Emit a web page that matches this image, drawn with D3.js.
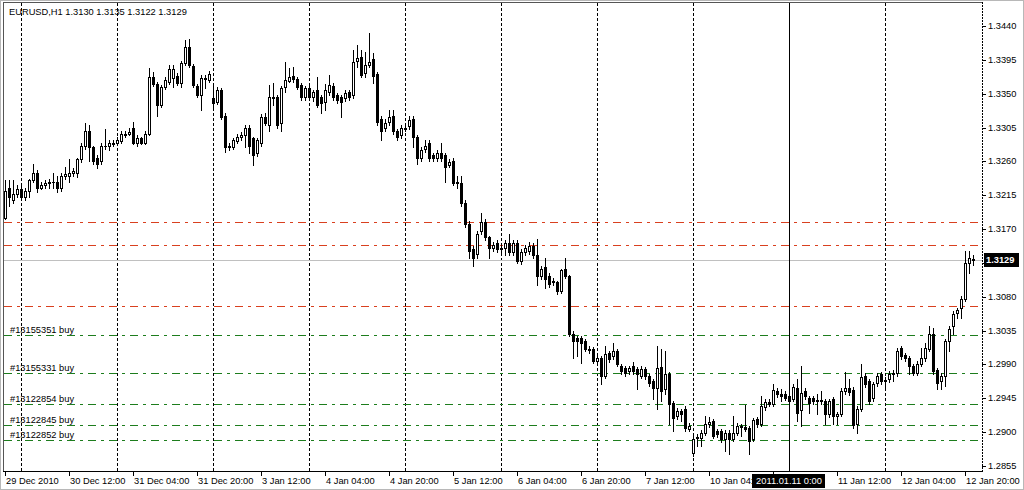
<!DOCTYPE html>
<html><head><meta charset="utf-8">
<script src="https://cdn.jsdelivr.net/npm/d3@7"></script>
<style>
html,body{margin:0;padding:0;background:#fff;}
svg{display:block;}
line,rect{shape-rendering:crispEdges;}
text{font-family:"Liberation Sans",Arial,sans-serif;font-size:9.3px;fill:#000;}
</style></head><body>
<svg id="c" width="1024" height="490"></svg>
<script>
const symbol = "EURUSD,H1";
const lastQuote = ["1.3130","1.3135","1.3122","1.3129"];
const opens = [1.3185,1.3224,1.3209,1.3217,1.3223,1.3213,1.3220,1.3235,1.3244,1.3225,
1.3229,1.3231,1.3232,1.3232,1.3225,1.3240,1.3241,1.3244,1.3245,1.3263,
1.3281,1.3301,1.3279,1.3265,1.3261,1.3281,1.3280,1.3283,1.3285,1.3287,
1.3295,1.3297,1.3304,1.3285,1.3291,1.3285,1.3297,1.3372,1.3363,1.3335,
1.3359,1.3365,1.3371,1.3373,1.3364,1.3391,1.3412,1.3387,1.3360,1.3348,
1.3371,1.3368,1.3344,1.3339,1.3355,1.3321,1.3279,1.3279,1.3287,1.3292,
1.3295,1.3305,1.3291,1.3271,1.3284,1.3319,1.3308,1.3345,1.3345,1.3311,
1.3359,1.3367,1.3373,1.3369,1.3361,1.3345,1.3357,1.3345,1.3355,1.3345,
1.3339,1.3352,1.3360,1.3348,1.3345,1.3344,1.3352,1.3348,1.3393,1.3399,
1.3377,1.3388,1.3396,1.3376,1.3317,1.3304,1.3313,1.3320,1.3300,1.3295,
1.3304,1.3307,1.3317,1.3292,1.3265,1.3277,1.3284,1.3268,1.3265,1.3271,
1.3268,1.3255,1.3261,1.3232,1.3231,1.3205,1.3177,1.3144,1.3137,1.3168,
1.3180,1.3159,1.3145,1.3152,1.3144,1.3145,1.3151,1.3139,1.3151,1.3128,
1.3139,1.3141,1.3148,1.3136,1.3108,1.3119,1.3108,1.3101,1.3099,1.3088,
1.3117,1.3107,1.3031,1.3025,1.3025,1.3021,1.3011,1.3011,1.2995,1.2999,
1.2975,1.3005,1.3001,1.3008,1.2988,1.2985,1.2981,1.2988,1.2984,1.2975,
1.2984,1.2975,1.2968,1.2959,1.2987,1.2957,1.2977,1.2939,1.2921,1.2928,
1.2931,1.2904,1.2872,1.2892,1.2892,1.2899,1.2911,1.2915,1.2901,1.2901,
1.2891,1.2899,1.2891,1.2899,1.2908,1.2907,1.2905,1.2891,1.2917,1.2911,
1.2933,1.2940,1.2938,1.2955,1.2951,1.2951,1.2948,1.2944,1.2959,1.2929,
1.2955,1.2945,1.2945,1.2941,1.2943,1.2941,1.2924,1.2944,1.2921,1.2924,
1.2955,1.2959,1.2956,1.2911,1.2931,1.2975,1.2968,1.2945,1.2965,1.2977,
1.2968,1.2971,1.2977,1.2979,1.3012,1.3003,1.2999,1.2988,1.2979,1.2991,
1.2999,1.3011,1.3031,1.2983,1.2968,1.2975,1.3021,1.3041,1.3059,1.3065,
1.3077,1.3125,1.3130];
const highs = [1.3235,1.3235,1.3235,1.3228,1.3231,1.3224,1.3237,1.3256,1.3248,1.3233,
1.3235,1.3237,1.3245,1.3241,1.3244,1.3252,1.3263,1.3251,1.3264,1.3285,
1.3311,1.3308,1.3281,1.3268,1.3284,1.3303,1.3288,1.3289,1.3292,1.3300,
1.3301,1.3304,1.3312,1.3295,1.3293,1.3300,1.3384,1.3379,1.3365,1.3361,
1.3372,1.3388,1.3388,1.3377,1.3393,1.3421,1.3423,1.3389,1.3363,1.3375,
1.3375,1.3380,1.3364,1.3359,1.3357,1.3324,1.3284,1.3291,1.3296,1.3299,
1.3308,1.3308,1.3293,1.3291,1.3323,1.3324,1.3361,1.3364,1.3348,1.3360,
1.3392,1.3384,1.3385,1.3372,1.3364,1.3360,1.3360,1.3355,1.3372,1.3348,
1.3363,1.3375,1.3364,1.3351,1.3348,1.3355,1.3355,1.3408,1.3415,1.3408,
1.3405,1.3431,1.3404,1.3379,1.3320,1.3316,1.3328,1.3328,1.3303,1.3308,
1.3309,1.3321,1.3320,1.3295,1.3279,1.3288,1.3288,1.3271,1.3275,1.3284,
1.3271,1.3263,1.3264,1.3241,1.3241,1.3208,1.3181,1.3147,1.3167,1.3192,
1.3183,1.3161,1.3153,1.3155,1.3149,1.3155,1.3164,1.3155,1.3155,1.3143,
1.3149,1.3153,1.3151,1.3157,1.3121,1.3132,1.3111,1.3105,1.3101,1.3117,
1.3131,1.3109,1.3035,1.3028,1.3028,1.3024,1.3015,1.3013,1.3003,1.3001,
1.3015,1.3008,1.3019,1.3011,1.2991,1.2988,1.2988,1.2993,1.2987,1.2988,
1.2987,1.2977,1.2971,1.3015,1.3011,1.3008,1.2980,1.2941,1.2932,1.2931,
1.2935,1.2912,1.2895,1.2897,1.2903,1.2921,1.2920,1.2917,1.2904,1.2904,
1.2903,1.2903,1.2921,1.2912,1.2911,1.2936,1.2908,1.2919,1.2920,1.2948,
1.2944,1.2944,1.2964,1.2959,1.2957,1.2955,1.2951,1.2964,1.2971,1.2988,
1.2959,1.2948,1.2948,1.2951,1.2955,1.2944,1.2944,1.2947,1.2927,1.2959,
1.2980,1.2971,1.2960,1.2935,1.2991,1.2979,1.2971,1.2967,1.2979,1.2980,
1.2973,1.2981,1.2983,1.3012,1.3015,1.3005,1.3001,1.2991,1.2995,1.3012,
1.3019,1.3041,1.3039,1.2985,1.2979,1.3024,1.3041,1.3061,1.3065,1.3081,
1.3141,1.3141,1.3135];
const lows = [1.3184,1.3201,1.3205,1.3213,1.3209,1.3208,1.3212,1.3232,1.3219,1.3223,
1.3225,1.3225,1.3225,1.3219,1.3221,1.3237,1.3232,1.3241,1.3239,1.3259,
1.3277,1.3261,1.3257,1.3251,1.3257,1.3277,1.3275,1.3280,1.3283,1.3284,
1.3292,1.3295,1.3283,1.3281,1.3283,1.3283,1.3295,1.3360,1.3321,1.3332,
1.3356,1.3363,1.3359,1.3361,1.3359,1.3388,1.3385,1.3359,1.3345,1.3328,
1.3357,1.3365,1.3332,1.3336,1.3316,1.3272,1.3275,1.3276,1.3284,1.3289,
1.3279,1.3271,1.3255,1.3267,1.3280,1.3308,1.3301,1.3335,1.3305,1.3301,
1.3352,1.3365,1.3365,1.3356,1.3341,1.3341,1.3341,1.3340,1.3332,1.3324,
1.3328,1.3348,1.3341,1.3337,1.3319,1.3340,1.3341,1.3344,1.3385,1.3372,
1.3372,1.3385,1.3364,1.3309,1.3288,1.3300,1.3309,1.3297,1.3288,1.3291,
1.3300,1.3303,1.3279,1.3257,1.3261,1.3273,1.3261,1.3261,1.3261,1.3261,
1.3232,1.3252,1.3228,1.3224,1.3201,1.3173,1.3131,1.3121,1.3131,1.3164,
1.3155,1.3131,1.3141,1.3140,1.3140,1.3136,1.3135,1.3135,1.3125,1.3124,
1.3136,1.3137,1.3132,1.3095,1.3104,1.3092,1.3093,1.3095,1.3084,1.3085,
1.3105,1.3028,1.2999,1.3001,1.2992,1.3008,1.3005,1.2992,1.2992,1.2964,
1.2972,1.2993,1.2997,1.2988,1.2977,1.2975,1.2977,1.2977,1.2957,1.2972,
1.2971,1.2961,1.2944,1.2931,1.2941,1.2951,1.2911,1.2901,1.2917,1.2915,
1.2901,1.2901,1.2868,1.2881,1.2881,1.2896,1.2907,1.2892,1.2893,1.2887,
1.2875,1.2871,1.2888,1.2896,1.2895,1.2901,1.2871,1.2888,1.2907,1.2908,
1.2929,1.2935,1.2935,1.2947,1.2941,1.2943,1.2937,1.2941,1.2915,1.2908,
1.2944,1.2925,1.2937,1.2924,1.2937,1.2911,1.2920,1.2911,1.2911,1.2921,
1.2951,1.2949,1.2905,1.2899,1.2928,1.2960,1.2937,1.2941,1.2961,1.2964,
1.2957,1.2967,1.2968,1.2975,1.2997,1.2995,1.2977,1.2976,1.2976,1.2988,
1.2995,1.3008,1.2977,1.2957,1.2957,1.2961,1.3008,1.3031,1.3052,1.3052,
1.3075,1.3111,1.3122];
const closes = [1.3221,1.3212,1.3217,1.3223,1.3213,1.3220,1.3235,1.3244,1.3225,1.3229,
1.3231,1.3232,1.3232,1.3225,1.3240,1.3243,1.3244,1.3247,1.3263,1.3281,
1.3301,1.3279,1.3261,1.3257,1.3281,1.3280,1.3284,1.3285,1.3288,1.3297,
1.3297,1.3299,1.3285,1.3291,1.3285,1.3297,1.3372,1.3363,1.3335,1.3359,
1.3368,1.3383,1.3383,1.3364,1.3391,1.3412,1.3388,1.3361,1.3348,1.3371,
1.3369,1.3376,1.3337,1.3355,1.3319,1.3279,1.3280,1.3288,1.3292,1.3295,
1.3305,1.3280,1.3268,1.3288,1.3319,1.3311,1.3345,1.3344,1.3308,1.3357,
1.3368,1.3372,1.3369,1.3359,1.3345,1.3357,1.3345,1.3352,1.3335,1.3337,
1.3355,1.3361,1.3345,1.3341,1.3339,1.3351,1.3345,1.3392,1.3397,1.3375,
1.3388,1.3392,1.3373,1.3312,1.3300,1.3311,1.3319,1.3301,1.3292,1.3304,
1.3305,1.3315,1.3292,1.3264,1.3275,1.3281,1.3265,1.3265,1.3271,1.3265,
1.3252,1.3259,1.3231,1.3233,1.3205,1.3177,1.3141,1.3132,1.3164,1.3179,
1.3159,1.3145,1.3149,1.3144,1.3145,1.3152,1.3139,1.3151,1.3128,1.3139,
1.3145,1.3148,1.3135,1.3108,1.3117,1.3104,1.3097,1.3099,1.3088,1.3115,
1.3108,1.3031,1.3021,1.3021,1.3019,1.3011,1.3009,1.2995,1.2999,1.2975,
1.3004,1.2997,1.3008,1.2991,1.2981,1.2979,1.2985,1.2981,1.2977,1.2984,
1.2975,1.2965,1.2959,1.2985,1.2955,1.2977,1.2937,1.2919,1.2928,1.2924,
1.2905,1.2908,1.2891,1.2893,1.2899,1.2911,1.2913,1.2895,1.2897,1.2891,
1.2899,1.2891,1.2899,1.2908,1.2907,1.2904,1.2888,1.2916,1.2911,1.2935,
1.2940,1.2938,1.2956,1.2951,1.2948,1.2945,1.2941,1.2960,1.2925,1.2952,
1.2948,1.2939,1.2941,1.2943,1.2941,1.2924,1.2941,1.2921,1.2924,1.2955,
1.2959,1.2953,1.2909,1.2931,1.2973,1.2964,1.2941,1.2964,1.2975,1.2968,
1.2970,1.2977,1.2979,1.3008,1.3001,1.2999,1.2988,1.2979,1.2991,1.2999,
1.3012,1.3031,1.2981,1.2965,1.2975,1.3021,1.3037,1.3057,1.3063,1.3077,
1.3125,1.3131,1.3129];
const xTickLabels = ["29 Dec 2010","30 Dec 12:00","31 Dec 04:00","31 Dec 20:00","3 Jan 12:00","4 Jan 04:00","4 Jan 20:00","5 Jan 12:00","6 Jan 04:00","6 Jan 20:00","7 Jan 12:00","10 Jan 04:00","10 Jan 20:00","11 Jan 12:00","12 Jan 04:00","12 Jan 20:00"];
const yTicks = [1.2855,1.2900,1.2945,1.2990,1.3035,1.3080,1.3125,1.3170,1.3215,1.3260,1.3305,1.3350,1.3395,1.3440];
const redLevels = [1.3180,1.3149,1.3068];
const greenLevels = [1.3029,1.2979,1.2938,1.2910,1.2889];
const orderLabels = ["#13155351 buy","#13155331 buy","#13122854 buy","#13122845 buy","#13122852 buy"];
const bidPrice = 1.3129;
const cursorBar = 196;
const cursorLabel = "2011.01.11 0:00";

const N = closes.length;
const svg = d3.select("#c");
const L = 4, R = 982, T = 3, B = 471;
const x = d3.scaleLinear().domain([0, N-1]).range([5, 5 + 4*(N-1)]);
const y = d3.scaleLinear().domain([1.2855, 1.3440]).range([466, 26]);
const py = v => Math.round(y(v));

const defs = svg.append("defs");
defs.append("clipPath").attr("id","xclip").append("rect").attr("x",0).attr("y",472).attr("width",x(cursorBar)-37).attr("height",18);

// frame
svg.append("rect").attr("x",0.5).attr("y",0.5).attr("width",1023).attr("height",489).attr("fill","none").attr("stroke","#b8b8b8");
svg.append("line").attr("x1",L-0.5).attr("x2",L-0.5).attr("y1",T).attr("y2",B).attr("stroke","#555");
svg.append("line").attr("x1",L-1).attr("x2",R).attr("y1",T-0.5).attr("y2",T-0.5).attr("stroke","#555");

// vertical grid
const gridIdx = d3.range(4, N, 24);
svg.append("g").selectAll("line").data(gridIdx).join("line")
  .attr("x1",d=>x(d)+0.5).attr("x2",d=>x(d)+0.5).attr("y1",T).attr("y2",B)
  .attr("stroke","#000").attr("stroke-dasharray","3,2");

// level lines
svg.append("g").selectAll("line").data(redLevels).join("line")
  .attr("x1",L).attr("x2",R).attr("y1",d=>py(d)+0.5).attr("y2",d=>py(d)+0.5)
  .attr("stroke","#d9401f").attr("stroke-dasharray","8,5,3,5");
svg.append("g").selectAll("line").data(greenLevels).join("line")
  .attr("x1",L).attr("x2",R).attr("y1",d=>py(d)+0.5).attr("y2",d=>py(d)+0.5)
  .attr("stroke","#1d7d1d").attr("stroke-dasharray","8,5,3,5");
svg.append("g").selectAll("text").data(greenLevels).join("text")
  .attr("x",10).attr("y",d=>py(d)-2).text((d,i)=>orderLabels[i]);

// bid line
svg.append("line").attr("x1",L).attr("x2",R).attr("y1",py(bidPrice)+0.5).attr("y2",py(bidPrice)+0.5).attr("stroke","#c0c0c0");

// crosshair
svg.append("line").attr("x1",x(cursorBar)+0.5).attr("x2",x(cursorBar)+0.5).attr("y1",T).attr("y2",B).attr("stroke","#000");

// candles
const idx = d3.range(N);
const g = svg.append("g");
g.selectAll("line.w").data(idx).join("line").attr("class","w")
  .attr("x1",i=>x(i)+0.5).attr("x2",i=>x(i)+0.5)
  .attr("y1",i=>py(highs[i])).attr("y2",i=>py(lows[i])+1)
  .attr("stroke","#000");
idx.forEach(i=>{
  const o=opens[i], c=closes[i];
  const top = py(Math.max(o,c)), bot = py(Math.min(o,c));
  const cx = x(i);
  if (c > o) {
    g.append("rect").attr("x",cx-0.5).attr("y",top+0.5).attr("width",2).attr("height",Math.max(bot-top,1))
      .attr("fill","#fff").attr("stroke","#000");
  } else {
    g.append("rect").attr("x",cx-1).attr("y",top).attr("width",3).attr("height",Math.max(bot-top+1,1))
      .attr("fill","#000");
  }
});

// right axis
const bb = py(bidPrice);
svg.append("line").attr("x1",R+0.5).attr("x2",R+0.5).attr("y1",T-1).attr("y2",B+1).attr("stroke","#000").attr("stroke-dasharray","2,1");
const ya = svg.append("g");
ya.selectAll("line").data(yTicks).join("line")
  .attr("x1",R).attr("x2",R+4).attr("y1",d=>py(d)+0.5).attr("y2",d=>py(d)+0.5).attr("stroke","#000");
ya.selectAll("text").data(yTicks.filter(d=>Math.abs(py(d)-bb)>9)).join("text")
  .attr("x",988).attr("y",d=>py(d)).attr("dy","0.35em").text(d=>d.toFixed(4));

// bottom axis
svg.append("line").attr("x1",L-1).attr("x2",R+1).attr("y1",B+0.5).attr("y2",B+0.5).attr("stroke","#000");
const xa = svg.append("g");
const xTickIdx = xTickLabels.map((d,k)=>k*16);
const cxp = x(cursorBar);
xa.selectAll("line").data(xTickIdx).join("line")
  .attr("x1",d=>x(d)+0.5).attr("x2",d=>x(d)+0.5).attr("y1",B).attr("y2",B+5).attr("stroke","#000");
const visibleX = xTickIdx.filter(d => x(d) < cxp-37 || x(d) > cxp+37);
xa.selectAll("text").data(visibleX).join("text")
  .attr("x",d=>x(d)+1).attr("y",481).attr("dy","0.35em")
  .attr("clip-path",d=> x(d) < cxp ? "url(#xclip)" : null)
  .text(d=>xTickLabels[d/16]);

// header
svg.append("text").attr("x",9).attr("y",12).attr("dy","0.35em")
  .text(symbol + "  " + lastQuote.join(" "));

// price box
svg.append("rect").attr("x",984).attr("y",bb-7).attr("width",35).attr("height",14).attr("fill","#000");
svg.append("text").attr("x",986).attr("y",bb).attr("dy","0.35em").style("fill","#fff").style("font-weight","bold").text(bidPrice.toFixed(4));

// cursor date box
svg.append("rect").attr("x",cxp-37).attr("y",474).attr("width",73).attr("height",14).attr("fill","#000");
svg.append("text").attr("x",cxp).attr("y",481).attr("dy","0.35em").attr("text-anchor","middle").style("fill","#fff").text(cursorLabel);
</script>
</body></html>
